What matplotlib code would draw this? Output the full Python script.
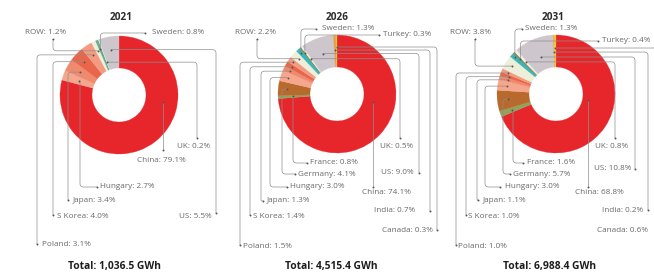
import matplotlib
matplotlib.use('Agg')
import matplotlib.pyplot as plt
from matplotlib.path import Path
from matplotlib.patches import PathPatch
import numpy as np

W, H = 654, 276

# ---------------- data ----------------
years = ['2021', '2026', '2031']
totals = ['1,036.5', '4,515.4', '6,988.4']

countries_2021 = ['China', 'Hungary', 'Japan', 'S Korea', 'Poland', 'ROW', 'Sweden', 'UK', 'US']
shares_2021 = [79.1, 2.7, 3.4, 4.0, 3.1, 1.2, 0.8, 0.2, 5.5]

countries_2026 = ['China', 'France', 'Germany', 'Hungary', 'Japan', 'S Korea', 'Poland', 'ROW',
                  'Sweden', 'Turkey', 'UK', 'US', 'India', 'Canada']
shares_2026 = [74.1, 0.8, 4.1, 3.0, 1.3, 1.4, 1.5, 2.2, 1.3, 0.3, 0.5, 9.0, 0.7, 0.3]

countries_2031 = ['China', 'France', 'Germany', 'Hungary', 'Japan', 'S Korea', 'Poland', 'ROW',
                  'Sweden', 'Turkey', 'UK', 'US', 'India', 'Canada']
shares_2031 = [68.8, 1.6, 5.7, 3.0, 1.1, 1.0, 1.0, 3.8, 1.3, 0.4, 0.8, 10.8, 0.2, 0.6]

# ---------------- styles ----------------
colors = {'China': '#e6262b', 'France': '#8fa35c', 'Germany': '#b8692c', 'Hungary': '#f5a68c',
          'Japan': '#f08a6e', 'S Korea': '#e9664a', 'Poland': '#f39b80', 'ROW': '#edefdb',
          'Sweden': '#3db5b8', 'Turkey': '#7f7b33', 'UK': '#f3eee4', 'US': '#cdc6cc',
          'India': '#e2a04a', 'Canada': '#f3c535'}
sweden_2021_color = '#62ad8b'

# ---------------- layout (image pixel coords, y down) ----------------
centers = [(119, 95), (337, 94), (556, 94)]
R_OUT, R_IN = 59, 27
title_pos = [(121, 18), (337, 17), (553, 17)]
total_pos = [(115, 267), (331, 267), (550, 267)]

# country: (text_x, text_y, ha, lane_x, end_x, end_y, anchor_radius, anchor_frac)
labels_2021 = {
    'ROW': (25, 33, 'left', 53, 53, 39, 49, None),
    'Sweden': (152, 33, 'left', None, 145, 33, 50, None),
    'UK': (177, 147, 'left', 197, 197, 138, 35, None),
    'US': (212, 216, 'right', 216, 216, 213, 46, None),
    'China': (137, 161, 'left', None, None, 150, 44.5, 0.348),
    'Hungary': (100, 187, 'left', 80, 97, 187, 42, None),
    'Japan': (73, 201, 'left', 68, 68, 200, 45, None),
    'S Korea': (57, 216, 'left', 53, 53, 215, 48, None),
    'Poland': (42, 245, 'left', 37, 37, 244, 48, None),
}
labels_2026 = {
    'ROW': (235, 33, 'left', 257, 257, 39, 52, None),
    'Sweden': (322, 29, 'left', None, 316, 29, 55, None),
    'Turkey': (383, 34, 'left', None, 379, 35, 52, None),
    'UK': (380, 147, 'left', 400, 400, 138, 44, None),
    'US': (414, 173, 'right', 419, 419, 173, 43, None),
    'India': (415, 211, 'right', 430, 430, 211, 44, None),
    'Canada': (433, 230, 'right', 437, 437, 230, 47, None),
    'China': (362, 192, 'left', None, None, 187, 37, 0.384),
    'France': (310, 163, 'left', 293, 307, 163, 44, None),
    'Germany': (298, 174, 'left', 282, 295, 174, 50, None),
    'Hungary': (290, 187, 'left', 270, 287, 187, 52, None),
    'Japan': (267, 201, 'left', 261, 263, 201, 52, None),
    'S Korea': (253, 216, 'left', 250, 250, 215, 53, None),
    'Poland': (243, 246, 'left', 240, 240, 245, 54, None),
}
labels_2031 = {
    'ROW': (450, 33, 'left', 475, 475, 39, 52, None),
    'Sweden': (525, 29, 'left', None, 522, 29, 55, None),
    'Turkey': (602, 41, 'left', None, 598, 41, 50, None),
    'UK': (595, 147, 'left', 615, 615, 138, 44, None),
    'US': (631, 169, 'right', 635, 635, 169, 40, None),
    'India': (643, 211, 'right', 648, 648, 210, 42, None),
    'Canada': (648, 231, 'right', 660, 660, 231, 46, None),
    'China': (575, 192, 'left', None, None, 187, 33, 0.406),
    'France': (527, 163, 'left', 513, 523, 163, 47, None),
    'Germany': (513, 174, 'left', 503, 510, 174, 48, None),
    'Hungary': (505, 187, 'left', 485, 500, 187, 50, None),
    'Japan': (483, 201, 'left', 477, 478, 200, 50, None),
    'S Korea': (468, 216, 'left', 466, 466, 215, 50, None),
    'Poland': (458, 246, 'left', 456, 456, 245, 52, None),
}

panels = [(countries_2021, shares_2021, labels_2021),
          (countries_2026, shares_2026, labels_2026),
          (countries_2031, shares_2031, labels_2031)]

LINE_C = '#8e8e8e'
TEXT_C = '#6a6a6a'
LBL_FONT = ['Open Sans', 'DejaVu Sans']


def Y(y):
    return H - y


def rounded_path(points, rad=3.0):
    pts = [np.array(p, float) for p in points]
    clean = [pts[0]]
    for p in pts[1:]:
        if np.hypot(*(p - clean[-1])) > 0.05:
            clean.append(p)
    pts = clean
    verts = [pts[0]]
    codes = [Path.MOVETO]
    for i in range(1, len(pts) - 1):
        a, p, b = pts[i - 1], pts[i], pts[i + 1]
        d1 = p - a
        l1 = np.hypot(*d1)
        d1 = d1 / l1
        d2 = b - p
        l2 = np.hypot(*d2)
        d2 = d2 / l2
        r = min(rad, l1 / 2, l2 / 2)
        verts += [p - d1 * r, p, p + d2 * r]
        codes += [Path.LINETO, Path.CURVE3, Path.CURVE3]
    verts.append(pts[-1])
    codes.append(Path.LINETO)
    return Path(verts, codes)


fig = plt.figure(figsize=(W / 100, H / 100), dpi=100)
fig.patch.set_facecolor('white')
ax = fig.add_axes([0, 0, 1, 1])

for k, (countries, shares, lbls) in enumerate(panels):
    cx, cy = centers[k]
    cols = [colors[c] for c in countries]
    if k == 0:
        cols[countries.index('Sweden')] = sweden_2021_color
    wedges, _ = ax.pie(shares, colors=cols, startangle=90, counterclock=False,
                       radius=R_OUT, center=(cx, Y(cy)), frame=True,
                       wedgeprops=dict(width=R_OUT - R_IN, linewidth=0.2))
    for w, col in zip(wedges, cols):
        w.set_edgecolor(col)
    for i, c in enumerate(countries):
        tx, ty, ha, lane, ex, ey, ra, frac = lbls[c]
        w = wedges[i]
        t1, t2 = min(w.theta1, w.theta2), max(w.theta1, w.theta2)
        ang = (t1 + t2) / 2 if frac is None else t2 - frac * (t2 - t1)
        axp = cx + ra * np.cos(np.radians(ang))
        ayp = cy - ra * np.sin(np.radians(ang))
        lx = axp if lane is None else lane
        exx = lx if ex is None else ex
        pts = [(axp, ayp), (lx, ayp), (lx, ey), (exx, ey)]
        pts = [(x, Y(y)) for x, y in pts]
        ax.add_patch(PathPatch(rounded_path(pts, 3.5), fill=False, edgecolor=LINE_C,
                               lw=0.5, zorder=3, clip_on=True))
        ax.plot([axp, exx], [Y(ayp), Y(ey)], 'o', ms=1.4, color='#555555', mew=0, zorder=4)
        ax.text(tx, Y(ty), f'{c}: {shares[i]}%', ha=ha, va='center', fontsize=5.9,
                color=TEXT_C, family=LBL_FONT, zorder=5)
    ax.text(title_pos[k][0], Y(title_pos[k][1]), years[k], ha='center', va='center',
            fontsize=7.2, fontweight='bold', color='#2b2b2b', family=LBL_FONT)
    ax.text(total_pos[k][0], Y(total_pos[k][1]), f'Total: {totals[k]} GWh', ha='center',
            va='center', fontsize=7.4, fontweight='bold', color='#1e1e1e', family=LBL_FONT)

ax.set_xlim(0, W)
ax.set_ylim(0, H)
ax.set_aspect('auto')
ax.axis('off')

fig.savefig('out.png', dpi=100, facecolor='white')
